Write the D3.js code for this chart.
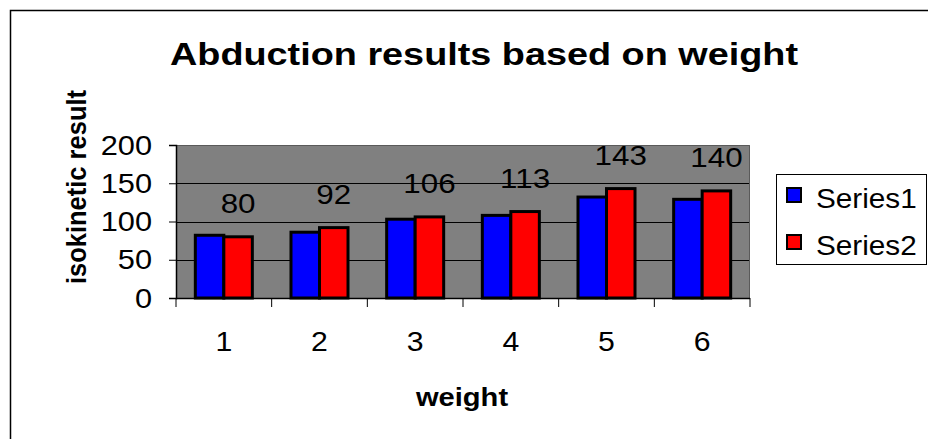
<!DOCTYPE html>
<html>
<head>
<meta charset="utf-8">
<script src="https://cdn.jsdelivr.net/npm/d3@7"></script>
<style>
  html, body { margin: 0; padding: 0; background: #fff; overflow: hidden; }
  svg { display: block; font-family: Arial, "Liberation Sans", sans-serif; }
</style>
</head>
<body>
<svg id="chart" width="928" height="439"></svg>
<script>
// Chart data
const categories = ["1", "2", "3", "4", "5", "6"];
const seriesNames = ["Series1", "Series2"];
const series1 = [82, 86, 103, 108, 132, 129];
const series2 = [80, 92, 106, 113, 143, 140];
const yTicks = [0, 50, 100, 150, 200];
const seriesColors = ["#0000ff", "#ff0000"];

const svg = d3.select("#chart");
const W = 928, H = 439;

// Plot frame
const plot = { left: 176, right: 750, top: 145, bottom: 298 };

// Outer chart border: only the top and left edges fall inside the view
svg.append("path")
  .attr("d", `M10.5,${H}V10.5H${W}`)
  .attr("fill", "none").attr("stroke", "#000").attr("stroke-width", 1.5);

// Text helper with a slight horizontal stretch
function label(g, x, y, text, opts) {
  const sx = opts.sx || 1;
  return g.append("text")
    .attr("transform", `translate(${x},${y}) scale(${sx},1)`)
    .attr("text-anchor", opts.anchor || "middle")
    .attr("font-size", opts.size)
    .attr("font-weight", opts.weight || "normal")
    .attr("fill", "#000")
    .text(text);
}

const x0 = d3.scaleBand()
  .domain(categories)
  .range([plot.left, plot.right])
  .paddingInner(0.404)
  .paddingOuter(0.202);
const x1 = d3.scaleBand()
  .domain(seriesNames)
  .range([0, x0.bandwidth()]);
const y = d3.scaleLinear().domain([0, 200]).range([plot.bottom, plot.top]);

// Plot background
svg.append("rect")
  .attr("x", plot.left).attr("y", plot.top)
  .attr("width", plot.right - plot.left).attr("height", plot.bottom - plot.top)
  .attr("fill", "#808080");

// Gridlines
svg.append("g").selectAll("line")
  .data(yTicks.filter(d => d > 0 && d < 200))
  .join("line")
  .attr("x1", plot.left).attr("x2", plot.right)
  .attr("y1", d => Math.round(y(d)) + 0.5).attr("y2", d => Math.round(y(d)) + 0.5)
  .attr("stroke", "#000").attr("stroke-width", 1);

// Plot area top / right edges
svg.append("path")
  .attr("d", `M${plot.left},${plot.top + 0.5}H${plot.right - 0.5}V${plot.bottom}`)
  .attr("fill", "none").attr("stroke", "#5a5a5a").attr("stroke-width", 1);

// Bars
const rows = categories.map((c, i) => ({ cat: c, vals: [series1[i], series2[i]] }));
const groups = svg.append("g").selectAll("g")
  .data(rows)
  .join("g")
  .attr("transform", d => `translate(${x0(d.cat)},0)`);
groups.selectAll("rect")
  .data(d => d.vals.map((v, k) => ({ v, k })))
  .join("rect")
  .attr("x", d => x1(seriesNames[d.k]))
  .attr("y", d => y(d.v))
  .attr("width", x1.bandwidth())
  .attr("height", d => y(0) - y(d.v))
  .attr("fill", d => seriesColors[d.k])
  .attr("stroke", "#000").attr("stroke-width", 3);

// Value labels for Series2
const vl = svg.append("g");
rows.forEach(d => {
  const cx = x0(d.cat) + x1("Series2") + x1.bandwidth() / 2;
  label(vl, cx, y(d.vals[1]) - 24, String(d.vals[1]), { size: 28, sx: 1.12 });
});

// Y axis
const yAxis = d3.axisLeft(y).tickValues(yTicks).tickSize(7).tickPadding(6);
const gy = svg.append("g").attr("transform", `translate(${plot.left},0)`).call(yAxis);
gy.select(".domain").attr("stroke", "#000").attr("stroke-width", 1.5);
gy.selectAll(".tick line").attr("stroke", "#000");
gy.selectAll(".tick text").remove();
yTicks.forEach(v => label(gy, -24, y(v) + 9.5, String(v), { size: 27, sx: 1.14, anchor: "end" }));

// X axis
const xTickScale = d3.scaleLinear().domain([0, categories.length]).range([plot.left, plot.right]);
const gx = svg.append("g").attr("transform", `translate(0,${plot.bottom})`);
gx.append("line").attr("x1", plot.left).attr("x2", plot.right)
  .attr("y1", 0.5).attr("y2", 0.5).attr("stroke", "#000").attr("stroke-width", 1.5);
gx.selectAll("line.tk")
  .data(d3.range(categories.length + 1))
  .join("line").attr("class", "tk")
  .attr("x1", i => xTickScale(i)).attr("x2", i => xTickScale(i))
  .attr("y1", 0).attr("y2", 9).attr("stroke", "#000");
categories.forEach(c => {
  label(gx, x0(c) + x0.bandwidth() / 2, 53, c, { size: 27, sx: 1.12 });
});

// Titles
label(svg, 484, 65, "Abduction results based on weight", { size: 31, weight: "bold", sx: 1.22 });
label(svg, 462, 406, "weight", { size: 26, weight: "bold", sx: 1.12 });
svg.append("text")
  .attr("transform", `translate(86,187) rotate(-90) scale(1,1.12)`)
  .attr("text-anchor", "middle")
  .attr("font-size", 25.5).attr("font-weight", "bold")
  .text("isokinetic result");

// Legend
const lg = svg.append("g");
lg.append("rect").attr("x", 776.5).attr("y", 174.5).attr("width", 150).attr("height", 90)
  .attr("fill", "#fff").attr("stroke", "#000").attr("stroke-width", 1);
seriesNames.forEach((s, i) => {
  const yy = 188 + i * 47;
  lg.append("rect").attr("x", 787).attr("y", yy).attr("width", 14).attr("height", 14)
    .attr("fill", seriesColors[i]).attr("stroke", "#000").attr("stroke-width", 2);
  label(lg, 816, yy + 19.5, s, { size: 27, sx: 1.1, anchor: "start" });
});
</script>
</body>
</html>
